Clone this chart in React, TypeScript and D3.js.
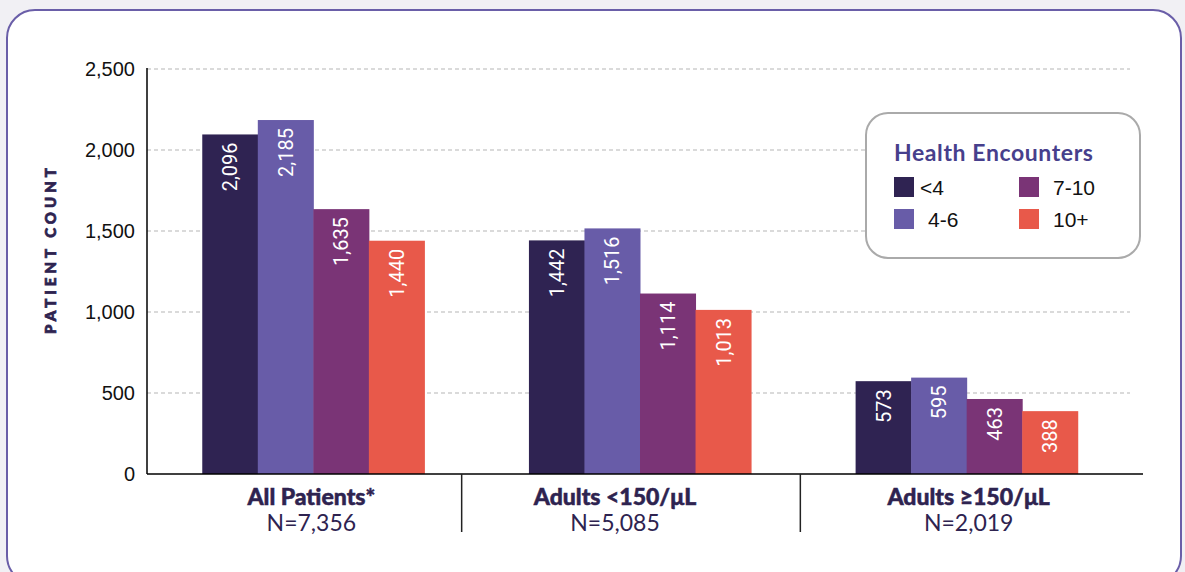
import React, { useEffect, useRef } from 'react'
import * as d3 from 'd3'

const groups = ['All Patients*', 'Adults <150/μL', 'Adults ≥150/μL']
const groupN = ['N=7,356', 'N=5,085', 'N=2,019']
const series = ['<4', '4-6', '7-10', '10+']
const colors = ['#2f2352', '#685ca8', '#7a3476', '#e8594a']
const values = [
  [2096, 1442, 573],
  [2185, 1516, 595],
  [1635, 1114, 463],
  [1440, 1013, 388],
]
const yTicks = [0, 500, 1000, 1500, 2000, 2500]

const W = 1185
const H = 572

export default function App() {
  const ref = useRef<SVGSVGElement>(null)

  useEffect(() => {
    const svg = d3.select(ref.current)
    svg.selectAll('*').remove()

    svg.append('rect').attr('width', W).attr('height', H).attr('fill', '#f1f0f4')
    svg.append('rect')
      .attr('x', 7).attr('y', 10)
      .attr('width', 1174).attr('height', 574)
      .attr('rx', 28)
      .attr('fill', '#fff')
      .attr('stroke', '#6a5ea8')
      .attr('stroke-width', 2)

    const left = 147
    const right = 1143
    const y = d3.scaleLinear().domain([0, 2500]).range([474, 69])
    const x0 = d3.scaleBand().domain(groups).range([150, 1130]).paddingInner(0.32).paddingOuter(0.16)
    const x1 = d3.scaleBand().domain(series).range([0, x0.bandwidth()])

    // grid
    svg.append('g').selectAll('line')
      .data(yTicks.filter(d => d > 0)).enter()
      .append('line')
      .attr('x1', left).attr('x2', 1130)
      .attr('y1', d => y(d)).attr('y2', d => y(d))
      .attr('stroke', '#b5b5b5')
      .attr('stroke-width', 1)
      .attr('stroke-dasharray', '4,3')

    // bars
    const g = svg.append('g')
    series.forEach((s, si) => {
      const bars = g.append('g')
      bars.selectAll('rect')
        .data(values[si]).enter()
        .append('rect')
        .attr('x', (d, i) => x0(groups[i])! + x1(s)!)
        .attr('y', d => y(d))
        .attr('width', x1.bandwidth() + 0.5)
        .attr('height', d => y(0) - y(d))
        .attr('fill', colors[si])
      bars.selectAll('text')
        .data(values[si]).enter()
        .append('text')
        .attr('transform', (d, i) => {
          const cx = x0(groups[i])! + x1(s)! + x1.bandwidth() / 2
          return `translate(${cx},${y(d) + 8}) rotate(-90)`
        })
        .attr('text-anchor', 'end')
        .attr('dy', '0.36em')
        .attr('fill', '#fff')
        .attr('font-family', 'Roboto, sans-serif')
        .attr('font-size', 20)
        .text(d => d3.format(',')(d))
    })

    // axes lines
    svg.append('line')
      .attr('x1', left).attr('x2', left)
      .attr('y1', 68).attr('y2', y(0))
      .attr('stroke', '#000').attr('stroke-width', 1.5)
    svg.append('line')
      .attr('x1', left).attr('x2', right)
      .attr('y1', y(0)).attr('y2', y(0))
      .attr('stroke', '#000').attr('stroke-width', 1.5)

    // y tick labels
    svg.append('g').selectAll('text')
      .data(yTicks).enter()
      .append('text')
      .attr('x', 135)
      .attr('y', d => y(d))
      .attr('dy', '0.36em')
      .attr('text-anchor', 'end')
      .attr('font-family', '"Liberation Sans", Arial, sans-serif')
      .attr('font-size', 20)
      .attr('fill', '#111')
      .text(d => d3.format(',')(d))

    svg.append('text')
      .attr('transform', `translate(56,249) rotate(-90)`)
      .attr('text-anchor', 'middle')
      .attr('font-family', 'Lato, sans-serif')
      .attr('font-weight', 900)
      .attr('font-size', 15)
      .attr('letter-spacing', 4)
      .attr('fill', '#2e2350')
      .attr('stroke', '#2e2350')
      .attr('stroke-width', 0.7)
      .text('PATIENT COUNT')

    // group separators
    groups.slice(1).forEach((grp, i) => {
      const sx = (x0(groups[i])! + x0.bandwidth() + x0(grp)!) / 2 - (i === 0 ? 15 : 3)
      svg.append('line')
        .attr('x1', sx).attr('x2', sx)
        .attr('y1', y(0)).attr('y2', 532)
        .attr('stroke', '#222').attr('stroke-width', 1.5)
    })

    // group labels
    const labelOffset = [-2, -25, 2]
    const gl = svg.append('g')
    groups.forEach((grp, i) => {
      const cx = x0(grp)! + x0.bandwidth() / 2 + labelOffset[i]
      gl.append('text')
        .attr('x', cx).attr('y', 505)
        .attr('text-anchor', 'middle')
        .attr('font-family', 'Lato, sans-serif')
        .attr('font-weight', 900)
        .attr('font-size', 23)
        .attr('fill', '#2e2350')
        .attr('stroke', '#2e2350')
        .attr('stroke-width', 0.5)
        .text(grp)
      gl.append('text')
        .attr('x', cx).attr('y', 531)
        .attr('text-anchor', 'middle')
        .attr('font-family', 'Lato, sans-serif')
        .attr('font-size', 23)
        .attr('fill', '#2e2350')
        .text(groupN[i])
    })

    // legend
    const lg = svg.append('g').attr('transform', 'translate(866,113)')
    lg.append('rect')
      .attr('width', 274).attr('height', 145)
      .attr('rx', 22)
      .attr('fill', '#fff')
      .attr('stroke', '#aaaaaa')
      .attr('stroke-width', 2)
    lg.append('text')
      .attr('x', 28).attr('y', 48)
      .attr('font-family', 'Lato, sans-serif')
      .attr('font-weight', 'bold')
      .attr('font-size', 23)
      .attr('letter-spacing', 0.6)
      .attr('fill', '#473f8c')
      .text('Health Encounters')
    const pos = [[28, 64], [28, 96], [153, 64], [153, 96]]
    const textDx = [26, 34, 34, 34]
    series.forEach((s, i) => {
      lg.append('rect')
        .attr('x', pos[i][0]).attr('y', pos[i][1])
        .attr('width', 20).attr('height', 20)
        .attr('fill', colors[i])
      lg.append('text')
        .attr('x', pos[i][0] + textDx[i]).attr('y', pos[i][1] + 10)
        .attr('dy', '0.36em')
        .attr('font-family', '"Liberation Sans", Arial, sans-serif')
        .attr('font-size', 21)
        .attr('fill', '#111')
        .text(s)
    })
  }, [])

  return (
    <svg ref={ref} width={W} height={H} style={{ position: 'absolute', left: 0, top: 0 }} />
  )
}
